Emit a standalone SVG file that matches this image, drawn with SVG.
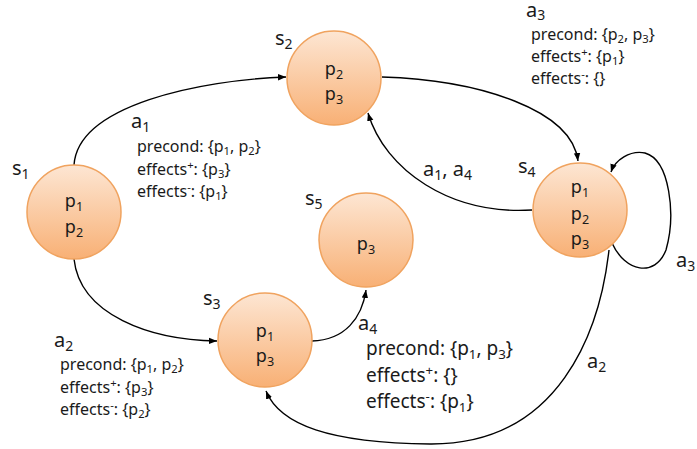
<svg xmlns="http://www.w3.org/2000/svg" width="697" height="449" viewBox="0 0 697 449">
<style>
text{font-family:"Noto Sans","Open Sans",sans-serif;fill:#1a1a1a}
.lbl{font-size:20px}
.nt{font-size:18px;text-anchor:middle}
.ann{font-size:16px}
.ann2{font-size:19px}
.sb{font-size:70%}
.circ{fill:url(#g);stroke:#f0a35f;stroke-width:1.5}
.edge{fill:none;stroke:#000;stroke-width:1.4;marker-end:url(#ah)}
</style>
<defs>
<linearGradient id="g" x1="0" y1="0" x2="0" y2="1">
<stop offset="0" stop-color="#fde6d3"/>
<stop offset="1" stop-color="#f8b075"/>
</linearGradient>
<marker id="ah" markerWidth="9" markerHeight="8" refX="8" refY="4" orient="auto" markerUnits="userSpaceOnUse">
<path d="M0,0.8 L8,4 L0,7.2 Z" fill="#000"/>
</marker>
</defs>
<g id="connectors">
<path class="edge" d="M74,165 C 78,105 200,80 286,77"/>
<path class="edge" d="M74,259 C 80,315 150,340 217,341"/>
<path class="edge" d="M382,77 C 480,80 572,110 578,161"/>
<path class="edge" d="M532,210 C 450,215 385,170 368,113"/>
<path class="edge" d="M612,243 C 625,272 655,278 666,250 C 676,215 670,160 645,153 C 630,150 615,160 611,172"/>
<path class="edge" d="M609,250 C 600,330 560,445 430,444 C 330,443 280,425 266,391"/>
<path class="edge" d="M312,341 C 345,340 362,318 366,290"/>
</g>
<g id="s1">
<circle class="circ" cx="74" cy="212" r="47"/>
<text class="lbl" x="12" y="175">s<tspan class="sb" dy="4">1</tspan></text>
<text class="nt" x="74" y="207">p<tspan class="sb" dy="4">1</tspan></text>
<text class="nt" x="74" y="233">p<tspan class="sb" dy="4">2</tspan></text>
</g>
<g id="s2">
<circle class="circ" cx="334" cy="78" r="47"/>
<text class="lbl" x="275" y="45">s<tspan class="sb" dy="4">2</tspan></text>
<text class="nt" x="334" y="75">p<tspan class="sb" dy="4">2</tspan></text>
<text class="nt" x="334" y="100">p<tspan class="sb" dy="4">3</tspan></text>
</g>
<g id="s3">
<circle class="circ" cx="265" cy="340" r="47"/>
<text class="lbl" x="203" y="305">s<tspan class="sb" dy="4">3</tspan></text>
<text class="nt" x="265" y="337">p<tspan class="sb" dy="4">1</tspan></text>
<text class="nt" x="265" y="362">p<tspan class="sb" dy="4">3</tspan></text>
</g>
<g id="s4">
<circle class="circ" cx="580" cy="210" r="47"/>
<text class="lbl" x="518" y="173">s<tspan class="sb" dy="4">4</tspan></text>
<text class="nt" x="580" y="193">p<tspan class="sb" dy="4">1</tspan></text>
<text class="nt" x="580" y="220">p<tspan class="sb" dy="4">2</tspan></text>
<text class="nt" x="580" y="245">p<tspan class="sb" dy="4">3</tspan></text>
</g>
<g id="s5">
<circle class="circ" cx="366" cy="240" r="47"/>
<text class="lbl" x="305" y="205">s<tspan class="sb" dy="4">5</tspan></text>
<text class="nt" x="366" y="250">p<tspan class="sb" dy="4">3</tspan></text>
</g>
<g id="labels">
<text class="lbl" x="131" y="128">a<tspan class="sb" dy="4">1</tspan></text>
<text class="ann" x="137" y="152">precond: {p<tspan class="sb" dy="3">1</tspan><tspan dy="-3">, p</tspan><tspan class="sb" dy="3">2</tspan><tspan dy="-3">}</tspan></text>
<text class="ann" x="137" y="175">effects<tspan class="sb" dy="-6">+</tspan><tspan dy="6">: {p</tspan><tspan class="sb" dy="3">3</tspan><tspan dy="-3">}</tspan></text>
<text class="ann" x="137" y="197">effects<tspan class="sb" dy="-6">-</tspan><tspan dy="6">: {p</tspan><tspan class="sb" dy="3">1</tspan><tspan dy="-3">}</tspan></text>

<text class="lbl" x="54" y="347">a<tspan class="sb" dy="4">2</tspan></text>
<text class="ann" x="60" y="370">precond: {p<tspan class="sb" dy="3">1</tspan><tspan dy="-3">, p</tspan><tspan class="sb" dy="3">2</tspan><tspan dy="-3">}</tspan></text>
<text class="ann" x="60" y="393">effects<tspan class="sb" dy="-6">+</tspan><tspan dy="6">: {p</tspan><tspan class="sb" dy="3">3</tspan><tspan dy="-3">}</tspan></text>
<text class="ann" x="60" y="415">effects<tspan class="sb" dy="-6">-</tspan><tspan dy="6">: {p</tspan><tspan class="sb" dy="3">2</tspan><tspan dy="-3">}</tspan></text>

<text class="lbl" x="526" y="17">a<tspan class="sb" dy="3">3</tspan></text>
<text class="ann" x="531" y="40">precond: {p<tspan class="sb" dy="3">2</tspan><tspan dy="-3">, p</tspan><tspan class="sb" dy="3">3</tspan><tspan dy="-3">}</tspan></text>
<text class="ann" x="531" y="62">effects<tspan class="sb" dy="-6">+</tspan><tspan dy="6">: {p</tspan><tspan class="sb" dy="3">1</tspan><tspan dy="-3">}</tspan></text>
<text class="ann" x="531" y="84">effects<tspan class="sb" dy="-6">-</tspan><tspan dy="6">: {}</tspan></text>

<text class="lbl" x="358" y="330">a<tspan class="sb" dy="4">4</tspan></text>
<text class="ann2" x="366" y="355">precond: {p<tspan class="sb" dy="4">1</tspan><tspan dy="-4">, p</tspan><tspan class="sb" dy="4">3</tspan><tspan dy="-4">}</tspan></text>
<text class="ann2" x="366" y="382">effects<tspan class="sb" dy="-7">+</tspan><tspan dy="7">: {}</tspan></text>
<text class="ann2" x="366" y="408">effects<tspan class="sb" dy="-7">-</tspan><tspan dy="7">: {p</tspan><tspan class="sb" dy="4">1</tspan><tspan dy="-4">}</tspan></text>

<text class="lbl" x="423" y="176">a<tspan class="sb" dy="4">1</tspan><tspan dy="-4">, a</tspan><tspan class="sb" dy="4">4</tspan></text>
<text class="lbl" x="676" y="267">a<tspan class="sb" dy="4">3</tspan></text>
<text class="lbl" x="587" y="368">a<tspan class="sb" dy="4">2</tspan></text>
</g>
</svg>
